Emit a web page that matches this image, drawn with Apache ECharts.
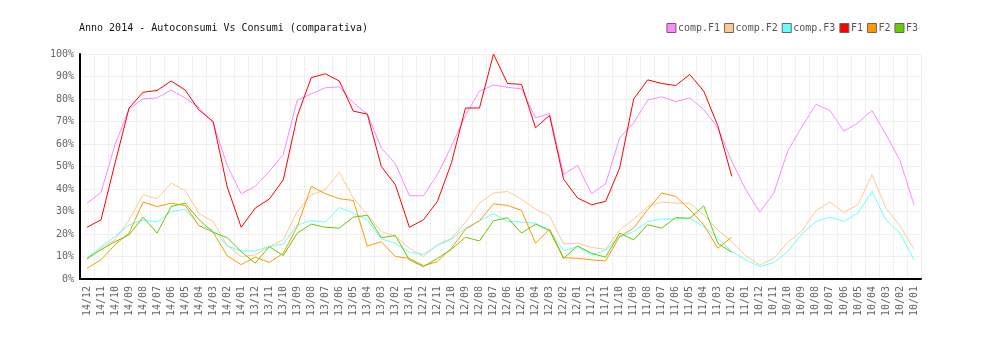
<!DOCTYPE html>
<html>
<head>
<meta charset="utf-8">
<script src="https://cdn.jsdelivr.net/npm/echarts@6/dist/echarts.min.js"></script>
<style>html,body{margin:0;padding:0;background:#fff;}#c{width:1000px;height:340px;}</style>
</head>
<body>
<div id="c"></div>
<script>
var categories = ['14/12','14/11','14/10','14/09','14/08','14/07','14/06','14/05','14/04','14/03','14/02','14/01',
'13/12','13/11','13/10','13/09','13/08','13/07','13/06','13/05','13/04','13/03','13/02','13/01',
'12/12','12/11','12/10','12/09','12/08','12/07','12/06','12/05','12/04','12/03','12/02','12/01',
'11/12','11/11','11/10','11/09','11/08','11/07','11/06','11/05','11/04','11/03','11/02','11/01',
'10/12','10/11','10/10','10/09','10/08','10/07','10/06','10/05','10/04','10/03','10/02','10/01'];

var compF1 = [33.7,38.5,59.7,75.6,80,80.5,84,80.5,76,69.4,50.5,37.9,
41.2,47.8,55.3,79.5,82.3,85,85.4,78.3,73.3,58.2,51.3,37,
37,46.4,59,72.7,83.5,86.2,85.2,84.5,71.6,73.6,46.4,50.5,
37.9,42.3,62.7,69.4,79.5,81,78.8,80.5,75.3,67.2,52.3,39.7,
29.7,38.2,57,67.6,77.6,74.9,65.7,69.4,74.9,64.2,52.7,33];
var compF2 = [8.5,13.7,17.4,26.3,37.4,35.7,42.6,39.4,29,25.6,14.8,10,
10.7,14.4,17.4,30,37.4,39.7,47.4,36,28.7,21.1,18.9,13.7,
10,15.2,18.1,25.1,33.7,38.2,38.9,35.5,31,28.1,15.6,15.9,
14,13.2,21.8,26.6,32.2,34.2,33.7,33.7,28.5,21.8,16.6,10.3,
6.2,9.2,16.2,21.4,30.3,34.2,29.7,33,46.4,31.5,23.6,13.2];
var compF3 = [9.2,14.4,18.9,24,26.3,25.3,30,31,23.8,21.8,14.7,12.5,
12.5,14.4,15.6,24,26,25.3,31.8,29.3,26.3,17.8,15.9,11.9,
11,14.9,17.7,22.6,25.9,29,25.6,25.3,24.8,21.8,12.6,14.4,
10.7,12.9,18.6,21.1,25.5,26.6,26.7,27,23.3,18.1,12.2,8.5,
5.5,7.3,12.4,20,25.6,27.5,25.6,29.3,38.9,26.3,20.4,8.5];
var F1 = [23,26.3,51.5,76,83,83.8,88,84,75,70,41,23,
31.5,35.5,44,72.4,89.5,91.2,88,74.6,73.3,50,41.9,23,
26.3,34.5,51.6,76,76,100,86.9,86.5,67.2,72.7,44.4,36,
33,34.5,49.3,80,88.5,86.9,86,90.9,83.5,68.2,45.6];
var F2 = [4.8,8.5,15.2,20.4,34.2,32.2,33.7,32.7,23.6,20.8,10.3,6.4,
9.7,7.4,11.4,23.3,41.2,37.9,35.7,34.9,14.6,16.6,10,9.2,
5.9,7.7,13.7,22.1,25.9,33.4,32.7,30.5,15.9,22.1,9.5,9.2,
8.5,8,18.9,22.6,30.9,38.2,36.7,30.8,24.1,13.7,18.6];
var F3 = [9.2,13,16.6,19.6,27.5,20.4,32.2,33.7,26.3,20.7,18.4,12.2,
7,14.4,10.4,20.4,24.4,23,22.6,27.5,28.3,18.4,19.3,8.5,
5.5,9.2,13.2,18.6,16.9,25.9,27.2,20.4,24.4,21.5,9.2,14.7,
11.4,9.7,20.4,17.4,24.1,22.6,27.3,27,32.5,15.9,11.9];
var yTicks = {min: 0, max: 100, interval: 10};

var seriesNames = ['comp.F1','comp.F2','comp.F3','F1','F2','F3'];
var seriesData = [compF1, compF2, compF3, F1, F2, F3];
var seriesColors = ['#ff88ff','#ffc890','#66ffff','#ff0000','#ff9900','#66cc00'];

var font = 'DejaVu Sans Mono';
var chart = echarts.init(document.getElementById('c'), null, {renderer: 'canvas'});
chart.setOption({
  animation: false,
  backgroundColor: '#ffffff',
  title: {
    text: 'Anno 2014 - Autoconsumi Vs Consumi (comparativa)',
    left: 74, top: 18,
    textStyle: {fontFamily: font, fontSize: 10, fontWeight: 'normal', color: '#111'}
  },
  legend: {
    right: 77, top: 18,
    itemWidth: 9, itemHeight: 9, itemGap: 4,
    icon: 'rect',
    textStyle: {fontFamily: font, fontSize: 10, color: '#555', padding: [0,0,0,-3]},
    data: seriesNames.map(function(n, i){
      return {name: n, itemStyle: {color: seriesColors[i], borderColor: '#666', borderWidth: 1}};
    })
  },
  grid: {left: 80, right: 79, top: 54, bottom: 61, containLabel: false},
  xAxis: {
    type: 'category',
    data: categories,
    boundaryGap: true,
    axisLine: {lineStyle: {color: '#000', width: 2}},
    axisTick: {show: false},
    axisLabel: {rotate: 90, interval: 0, fontFamily: font, fontSize: 10, color: '#666', margin: 7},
    splitLine: {show: true, interval: 0, lineStyle: {color: '#f0f0f0', width: 1}}
  },
  yAxis: {
    type: 'value',
    min: yTicks.min, max: yTicks.max, interval: yTicks.interval,
    axisLine: {show: true, lineStyle: {color: '#000', width: 2}},
    axisTick: {show: false},
    axisLabel: {formatter: '{value}%', fontFamily: font, fontSize: 10, color: '#666', margin: 6},
    splitLine: {show: true, lineStyle: {color: '#f0f0f0', width: 1}}
  },
  series: seriesNames.map(function(n, i){
    return {
      name: n, type: 'line', data: seriesData[i],
      symbol: 'none', smooth: false,
      itemStyle: {color: seriesColors[i]},
      lineStyle: {color: seriesColors[i], width: 1}
    };
  })
});
</script>
</body>
</html>
